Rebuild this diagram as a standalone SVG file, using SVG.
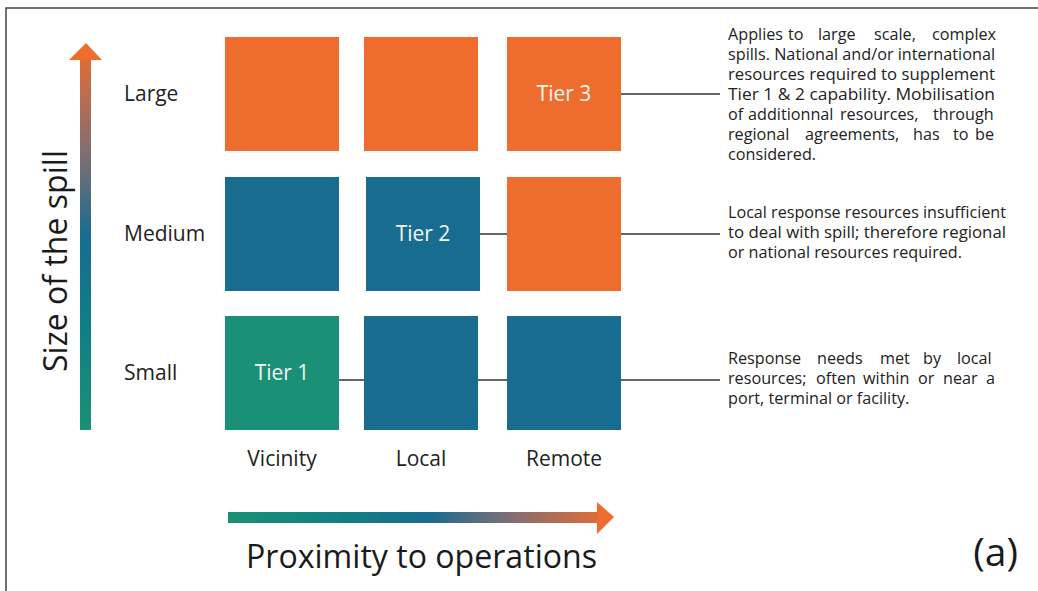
<svg xmlns="http://www.w3.org/2000/svg" width="1038" height="591" viewBox="0 0 1038 591">
<defs>
<linearGradient id="gh" x1="228" y1="0" x2="614" y2="0" gradientUnits="userSpaceOnUse">
<stop offset="0" stop-color="#1A9076"/>
<stop offset="0.25" stop-color="#12827F"/>
<stop offset="0.52" stop-color="#186C8F"/>
<stop offset="0.72" stop-color="#7A6E76"/>
<stop offset="1" stop-color="#EF6C2F"/>
</linearGradient>
<linearGradient id="gv" x1="0" y1="430" x2="0" y2="43" gradientUnits="userSpaceOnUse">
<stop offset="0" stop-color="#1A9076"/>
<stop offset="0.28" stop-color="#0F7D86"/>
<stop offset="0.5" stop-color="#186C8F"/>
<stop offset="0.7" stop-color="#7A6E76"/>
<stop offset="1" stop-color="#EF6C2F"/>
</linearGradient>
<style>
.orange{fill:#EF6C2F}
.blue{fill:#186C8F}
.green{fill:#1A9076}
.lbl{font-family:"Open Sans","Noto Sans",sans-serif;font-size:21px;fill:#222}
.tier{font-family:"Open Sans","Noto Sans",sans-serif;font-size:21px;fill:#F4F4F4;text-anchor:middle}
.desc{font-family:"Open Sans","Noto Sans",sans-serif;font-size:16.2px;fill:#222}
.big{font-family:"Open Sans","Noto Sans",sans-serif;font-size:32px;fill:#1a1a1a}
.conn{stroke:#333;stroke-width:1.5;fill:none}
</style>
</defs>
<rect x="0" y="0" width="1038" height="591" fill="#fff"/>
<rect x="6" y="8" width="1100" height="700" fill="none" stroke="#444" stroke-width="1.5"/>

<g id="connectors">
<line class="conn" x1="621" y1="94" x2="720" y2="94"/>
<line class="conn" x1="480" y1="234" x2="507" y2="234"/>
<line class="conn" x1="621" y1="234" x2="720" y2="234"/>
<line class="conn" x1="339" y1="380" x2="364" y2="380"/>
<line class="conn" x1="478" y1="380" x2="507" y2="380"/>
<line class="conn" x1="621" y1="380" x2="720" y2="380"/>
</g>

<g id="axis-y">
<rect x="80" y="60" width="11" height="370" fill="url(#gv)"/>
<polygon points="69,60 102,60 86,43" fill="#EF6C2F"/>
<text class="big" transform="translate(67,372) rotate(-90)" textLength="222" lengthAdjust="spacingAndGlyphs">Size of the spill</text>
</g>
<g id="axis-x">
<rect x="228" y="512" width="370" height="11" fill="url(#gh)"/>
<polygon points="597,502 597,534 614,517" fill="#EF6C2F"/>
<text class="big" x="246" y="568" textLength="351" lengthAdjust="spacingAndGlyphs">Proximity to operations</text>
</g>

<g id="row-labels">
<text class="lbl" x="124" y="101">Large</text>
<text class="lbl" x="124" y="241">Medium</text>
<text class="lbl" x="124" y="380">Small</text>
</g>
<g id="col-labels">
<text class="lbl" x="282" y="466" text-anchor="middle">Vicinity</text>
<text class="lbl" x="421" y="466" text-anchor="middle">Local</text>
<text class="lbl" x="564" y="466" text-anchor="middle">Remote</text>
</g>

<g id="large-vicinity"><rect class="orange" x="225" y="37" width="114" height="114"/></g>
<g id="large-local"><rect class="orange" x="364" y="37" width="114" height="114"/></g>
<g id="large-remote"><rect class="orange" x="507" y="37" width="114" height="114"/><text class="tier" x="564" y="101">Tier 3</text></g>

<g id="medium-vicinity"><rect class="blue" x="225" y="177" width="114" height="114"/></g>
<g id="medium-local"><rect class="blue" x="366" y="177" width="114" height="114"/><text class="tier" x="423" y="241">Tier 2</text></g>
<g id="medium-remote"><rect class="orange" x="507" y="177" width="114" height="114"/></g>

<g id="small-vicinity"><rect class="green" x="225" y="316" width="114" height="114"/><text class="tier" x="282" y="380">Tier 1</text></g>
<g id="small-local"><rect class="blue" x="364" y="316" width="114" height="114"/></g>
<g id="small-remote"><rect class="blue" x="507" y="316" width="114" height="114"/></g>

<g id="desc-tier3">
<text class="desc" y="40"><tspan x="728">Applies</tspan> <tspan x="788">to</tspan> <tspan x="818">large</tspan> <tspan x="874">scale,</tspan> <tspan x="932">complex</tspan></text>
<text class="desc" x="728" y="60" textLength="267" lengthAdjust="spacingAndGlyphs">spills. National and/or international</text>
<text class="desc" x="728" y="80" textLength="267" lengthAdjust="spacingAndGlyphs">resources required to supplement</text>
<text class="desc" x="728" y="100" textLength="267" lengthAdjust="spacingAndGlyphs">Tier 1 &amp; 2 capability. Mobilisation</text>
<text class="desc" y="120"><tspan x="728">of</tspan> <tspan x="748">additionnal</tspan> <tspan x="840">resources,</tspan> <tspan x="933">through</tspan></text>
<text class="desc" y="140"><tspan x="728">regional</tspan> <tspan x="805">agreements,</tspan> <tspan x="913">has</tspan> <tspan x="953">to</tspan> <tspan x="975">be</tspan></text>
<text class="desc" x="728" y="160">considered.</text>
</g>
<g id="desc-tier2">
<text class="desc" x="728" y="218" textLength="278" lengthAdjust="spacingAndGlyphs">Local response resources insufficient</text>
<text class="desc" x="728" y="238" textLength="278" lengthAdjust="spacingAndGlyphs">to deal with spill; therefore regional</text>
<text class="desc" x="728" y="258" textLength="234" lengthAdjust="spacingAndGlyphs">or national resources required.</text>
</g>
<g id="desc-tier1">
<text class="desc" y="364"><tspan x="728">Response</tspan> <tspan x="817">needs</tspan> <tspan x="880">met</tspan> <tspan x="923">by</tspan> <tspan x="957">local</tspan></text>
<text class="desc" y="384"><tspan x="728">resources;</tspan> <tspan x="816">often</tspan> <tspan x="863">within</tspan> <tspan x="918">or</tspan> <tspan x="943">near</tspan> <tspan x="986">a</tspan></text>
<text class="desc" x="728" y="404">port, terminal or facility.</text>
</g>

<text x="1018" y="566" text-anchor="end" style="font-family:'Open Sans','Noto Sans',sans-serif;font-size:39px;fill:#1a1a1a">(a)</text>
</svg>
